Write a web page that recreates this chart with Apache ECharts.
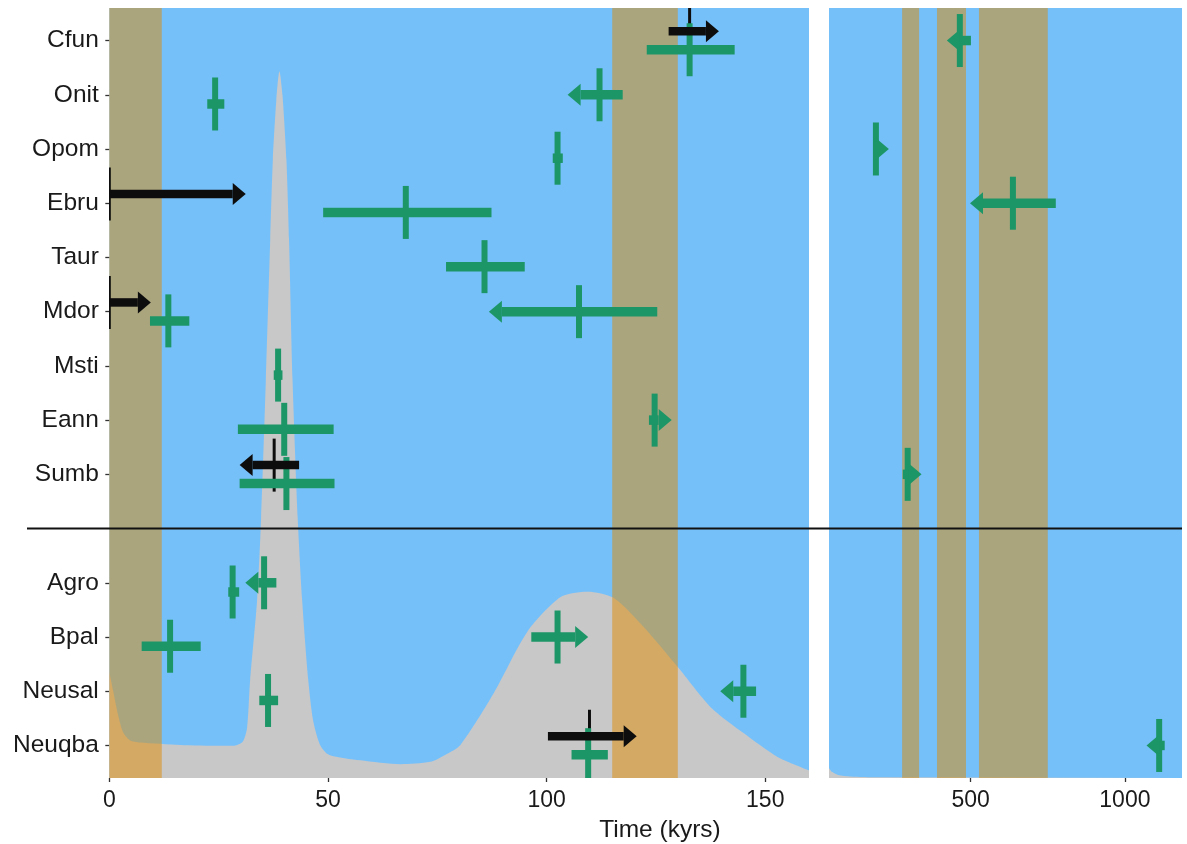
<!DOCTYPE html>
<html>
<head>
<meta charset="utf-8">
<script src="https://cdn.jsdelivr.net/npm/echarts@6/dist/echarts.min.js"></script>
<style>
html,body{margin:0;padding:0;background:#ffffff;}
#chart{width:1187px;height:844px;}
</style>
</head>
<body>
<div id="chart"></div>
<script>
// ---------- data ----------
// rows from bottom (1) to top (14); row 5 is the empty separator row
const rowNames = ['Neuqba','Neusal','Bpal','Agro','','Sumb','Eann','Msti','Mdor','Taur','Ebru','Opom','Onit','Cfun'];

// marks: [species, estimate, lower, upper, arrow, dodge slot]
const greenLeft = [
  ['Cfun',   132.7, 122.9, 143.0, 'none',  'down'],
  ['Onit',    24.2,  22.4,  26.3, 'none',  'down'],
  ['Onit',   112.1, 104.8, 117.4, 'left',  'mid'],
  ['Opom',   102.5, 101.4, 103.7, 'none',  'down'],
  ['Ebru',    67.8,  48.9,  87.4, 'none',  'down'],
  ['Taur',    85.8,  77.0,  95.0, 'none',  'down'],
  ['Mdor',    13.5,   9.3,  18.3, 'none',  'down'],
  ['Mdor',   107.4,  86.8, 125.3, 'left',  'mid'],
  ['Msti',    38.6,  37.6,  39.6, 'none',  'down'],
  ['Eann',    40.0,  29.4,  51.3, 'none',  'down'],
  ['Eann',   124.7, 123.4, 128.6, 'right', 'mid'],
  ['Sumb',    40.5,  29.8,  51.5, 'none',  'down'],
  ['Agro',    28.2,  27.2,  29.7, 'none',  'down'],
  ['Agro',    35.4,  31.1,  38.2, 'left',  'mid'],
  ['Bpal',    13.9,   7.4,  20.9, 'none',  'down'],
  ['Bpal',   102.5,  96.5, 109.5, 'right', 'mid'],
  ['Neusal',  36.3,  34.3,  38.6, 'none',  'down'],
  ['Neusal', 145.0, 139.7, 147.9, 'left',  'mid'],
  ['Neuqba', 109.5, 105.7, 114.0, 'none',  'down']
];
const blackLeft = [
  ['Cfun',   132.7, 127.9, 139.4, 'right', 'up'],
  ['Ebru',     0.0,   0.0,  31.2, 'right', 'up'],
  ['Mdor',     0.0,   0.0,   9.5, 'right', 'up'],
  ['Sumb',    37.7,  29.8,  43.4, 'left',  'up'],
  ['Neuqba', 109.8, 100.3, 120.6, 'right', 'up']
];
const greenRight = [
  ['Cfun',    465,  423,  501, 'left',  'mid'],
  ['Opom',    193,  193,  235, 'right', 'mid'],
  ['Ebru',    637,  498,  776, 'left',  'mid'],
  ['Sumb',    296,  280,  341, 'right', 'mid'],
  ['Neuqba', 1111, 1070, 1129, 'left',  'mid']
];

// interglacial bands [start, end]
const bandsLeft  = [[0, 12], [115, 130]];
const bandsRight = [[278, 333], [391, 485], [527, 750]];

// density (relative height of panel)
const densLeftX = [0, 0.85, 2, 3.1, 4.7, 7, 16.2, 25.4, 28.6, 30.5, 31.5, 32.2, 33.8, 34.7, 35.8, 36.8, 37.4, 38.2, 38.9, 39.6, 40.5, 41.1, 41.9, 43.1, 44.1, 45.5, 46.6, 48.2, 50.3, 57.4, 66.6, 73.4, 76.8, 80.3, 87.9, 95.6, 103.2, 109.4, 115.3, 122.2, 130, 137.5, 145.1, 152.9, 160];
const densLeftY = [0.138, 0.114, 0.082, 0.060, 0.049, 0.046, 0.043, 0.042, 0.042, 0.047, 0.065, 0.127, 0.231, 0.335, 0.517, 0.699, 0.803, 0.881, 0.918, 0.887, 0.803, 0.699, 0.517, 0.335, 0.231, 0.127, 0.075, 0.043, 0.030, 0.023, 0.018, 0.021, 0.030, 0.043, 0.110, 0.190, 0.235, 0.242, 0.234, 0.196, 0.144, 0.092, 0.058, 0.027, 0.010];
const densRightX = [41, 50, 70, 110, 200, 1185];
const densRightY = [0.013, 0.008, 0.004, 0.002, 0.001, 0.001];

const xTicksLeft  = [0, 50, 100, 150];
const xTicksRight = [500, 1000];
const separatorRow = 5;
const axisTitle = 'Time (kyrs)';

// ---------- styling ----------
const FONT = "'Liberation Sans', Arial, Helvetica, sans-serif";
const BG_BLUE = '#76C0FA';
const GREEN = '#1C9667';
const BLACK = '#0d0d0d';
const BAND = 'rgba(223,137,0,0.5)';
const GREY = '#C8C8C8';
const TICK_H = 53, HEAD_L = 13, HEAD_W = 11;
const slotOffset = {up: 0.17, mid: 0, down: -0.17};
const arrowCode = {none: 0, left: -1, right: 1};

function rowOf(n) { return rowNames.indexOf(n) + 1; }
function toItems(list) {
  return list.map(m => [m[1], m[2], m[3], rowOf(m[0]) + slotOffset[m[5]], arrowCode[m[4]]]);
}
function zip(xs, ys) { return xs.map((x, i) => [x, ys[i]]); }

function markRenderer(color, barH, tickW, part) {
  return function (params, api) {
    const est = api.value(0), lo = api.value(1), hi = api.value(2), y = api.value(3), dir = api.value(4);
    const pe = api.coord([est, y]), pl = api.coord([lo, y]), ph = api.coord([hi, y]);
    const cy = pe[1];
    const kids = [];
    if (part !== 'bar') {
      kids.push({type: 'rect', shape: {x: pe[0] - tickW / 2, y: cy - TICK_H / 2, width: tickW, height: TICK_H}, style: {fill: color}});
    }
    if (part !== 'tick') {
      let x0 = pl[0], x1 = ph[0];
      if (dir > 0) {
        x1 = ph[0] - HEAD_L;
        kids.push({type: 'polygon', shape: {points: [[ph[0], cy], [x1, cy - HEAD_W], [x1, cy + HEAD_W]]}, style: {fill: color}});
      }
      if (dir < 0) {
        x0 = pl[0] + HEAD_L;
        kids.push({type: 'polygon', shape: {points: [[pl[0], cy], [x0, cy - HEAD_W], [x0, cy + HEAD_W]]}, style: {fill: color}});
      }
      if (x1 > x0) {
        kids.push({type: 'rect', shape: {x: x0, y: cy - barH / 2, width: x1 - x0, height: barH}, style: {fill: color}});
      }
    }
    return {type: 'group', children: kids};
  };
}
function bandRenderer(params, api) {
  const a = api.coord([api.value(0), 0])[0];
  const b = api.coord([api.value(1), 0])[0];
  const cs = params.coordSys;
  return {type: 'rect', shape: {x: a, y: cs.y, width: b - a, height: cs.height}, style: {fill: BAND}};
}

const yLabelValues = rowNames.map((n, i) => i + 1).filter(v => rowNames[v - 1] !== '');

const labelStyle = {fontFamily: FONT, fontSize: 23, color: '#1a1a1a'};
const yLabelStyle = {fontFamily: FONT, fontSize: 24.5, color: '#1a1a1a'};
const tickStyle = {show: true, length: 4, lineStyle: {color: '#333', width: 1.3}};

const option = {
  animation: false,
  backgroundColor: '#ffffff',
  grid: [
    {left: 109.3, right: 378, top: 8, bottom: 66, show: true, backgroundColor: BG_BLUE, borderWidth: 0, containLabel: false},
    {left: 829, right: 5, top: 8, bottom: 66, show: true, backgroundColor: BG_BLUE, borderWidth: 0, containLabel: false}
  ],
  xAxis: [
    {gridIndex: 0, type: 'value', min: 0, max: 160,
     axisLine: {show: false}, splitLine: {show: false},
     axisTick: Object.assign({customValues: xTicksLeft}, tickStyle),
     axisLabel: Object.assign({customValues: xTicksLeft, margin: 11, formatter: v => String(v)}, labelStyle)},
    {gridIndex: 1, type: 'value', min: 41, max: 1185,
     axisLine: {show: false}, splitLine: {show: false},
     axisTick: Object.assign({customValues: xTicksRight}, tickStyle),
     axisLabel: Object.assign({customValues: xTicksRight, margin: 11, formatter: v => String(v)}, labelStyle)}
  ],
  yAxis: [
    {gridIndex: 0, type: 'value', min: 0.4, max: 14.6,
     axisLine: {show: false}, splitLine: {show: false},
     axisTick: Object.assign({customValues: yLabelValues}, tickStyle),
     axisLabel: Object.assign({customValues: yLabelValues, margin: 10.5,
       formatter: v => rowNames[Math.round(v) - 1] || ''}, yLabelStyle)},
    {gridIndex: 0, type: 'value', min: 0, max: 1, show: false},
    {gridIndex: 1, type: 'value', min: 0.4, max: 14.6, show: false},
    {gridIndex: 1, type: 'value', min: 0, max: 1, show: false}
  ],
  series: [
    {type: 'line', xAxisIndex: 0, yAxisIndex: 1, data: zip(densLeftX, densLeftY), smooth: 0.25,
     symbol: 'none', lineStyle: {width: 0}, areaStyle: {color: GREY, opacity: 1}, z: 1, silent: true},
    {type: 'line', xAxisIndex: 1, yAxisIndex: 3, data: zip(densRightX, densRightY), smooth: 0.25,
     symbol: 'none', lineStyle: {width: 0}, areaStyle: {color: GREY, opacity: 1}, z: 1, silent: true},
    {type: 'custom', xAxisIndex: 0, yAxisIndex: 0, data: bandsLeft, renderItem: bandRenderer, z: 2, silent: true, clip: true},
    {type: 'custom', xAxisIndex: 1, yAxisIndex: 2, data: bandsRight, renderItem: bandRenderer, z: 2, silent: true, clip: true},
    {type: 'custom', xAxisIndex: 0, yAxisIndex: 0, data: toItems(blackLeft), renderItem: markRenderer(BLACK, 8.5, 3, 'tick'), z: 3, silent: true, clip: true},
    {type: 'custom', xAxisIndex: 0, yAxisIndex: 0, data: toItems(greenLeft), renderItem: markRenderer(GREEN, 9.5, 6, 'all'), z: 4, silent: true, clip: true},
    {type: 'custom', xAxisIndex: 1, yAxisIndex: 2, data: toItems(greenRight), renderItem: markRenderer(GREEN, 9.5, 6, 'all'), z: 4, silent: true, clip: true},
    {type: 'custom', xAxisIndex: 0, yAxisIndex: 0, data: toItems(blackLeft), renderItem: markRenderer(BLACK, 8.5, 3, 'bar'), z: 5, silent: true, clip: true}
  ]
};

const chart = echarts.init(document.getElementById('chart'), null, {renderer: 'canvas'});
chart.setOption(option);

// separator line across both panels and the axis title
const sepY = chart.convertToPixel({yAxisIndex: 0}, separatorRow);
const rightPx = chart.convertToPixel({xAxisIndex: 1}, 1185);
chart.setOption({
  graphic: [
    {type: 'line', z: 10, shape: {x1: 27, y1: sepY, x2: rightPx, y2: sepY}, style: {stroke: '#111', lineWidth: 2}},
    {type: 'text', z: 10, x: 660, y: 830, style: {text: axisTitle, font: '24.5px ' + FONT, fill: '#1a1a1a', textAlign: 'center', textVerticalAlign: 'middle'}}
  ]
});
</script>
</body>
</html>
